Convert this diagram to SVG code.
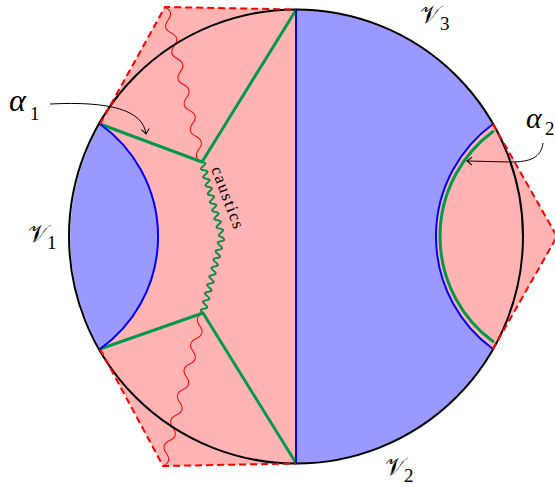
<svg xmlns="http://www.w3.org/2000/svg" width="555" height="488" viewBox="0 0 555 488">
<style>
.pink{fill:#FFB3B3;stroke:none}
.blue{fill:#9999FF;stroke:none}
.bl{fill:none;stroke:#0000FF;stroke-width:2}
.gr{fill:none;stroke:#00994D;stroke-width:3;stroke-linecap:round;stroke-linejoin:round}
.grw{fill:none;stroke:#00994D;stroke-width:2}
.rw{fill:none;stroke:#FF0000;stroke-width:1}
.dash{fill:none;stroke:#FF0000;stroke-width:2;stroke-dasharray:7,4}
.circ{fill:none;stroke:#000;stroke-width:2}
.lab{font-family:"Liberation Serif","DejaVu Serif",serif;font-style:italic;fill:#000}
.txt{font-family:"Liberation Serif","DejaVu Serif",serif;fill:#000}
.cal{font-family:"DejaVu Serif","DejaVu Sans",serif;fill:#000}
.sub{font-family:"Liberation Serif","DejaVu Serif",serif;fill:#000;font-size:19px}
.arr{fill:none;stroke:#000;stroke-width:1}
</style>
<defs>
<marker id="to" viewBox="-6 -5 8 10" markerWidth="8" markerHeight="10" refX="0" refY="0" orient="auto" markerUnits="userSpaceOnUse">
<path d="M-5,-4 Q-1.5,-1 0,0 Q-1.5,1 -5,4" fill="none" stroke="#000" stroke-width="1"/>
</marker>
</defs>
<g id="regions">
<path id="V3-region" class="blue" d="M296,9.5 A227,227 0 0 1 296,463.5 Z"/>
<path id="left-region" class="pink" d="M296,9.5 L165,7 L100,124 A138,138 0 0 1 100,349 L163,466 L296,463.5 Z"/>
<path id="right-lens" class="pink" d="M493,124 L557,236.5 L493,349 A139.5,139.5 0 0 1 493,124 Z"/>
<path id="V1-region" class="blue" d="M100,124 A227,227 0 0 0 100,349 A138,138 0 0 0 100,124 Z"/>
</g>
<g id="connectors">
<path class="rw" transform="translate(165,7) rotate(76.6)" d="M0,0 q6.645,-8 13.29,0 t13.29,0 t13.29,0 t13.29,0 t13.29,0 t13.29,0 t13.29,0 t13.29,0 t13.29,0 t13.29,0 t13.29,0 t13.29,0"/>
<path class="rw" transform="translate(203,313) rotate(104.65)" d="M0,0 q6.59,8 13.18,0 t13.18,0 t13.18,0 t13.18,0 t13.18,0 t13.18,0 t13.18,0 t13.18,0 t13.18,0 t13.18,0 t13.18,0 t13.18,0"/>
<path class="rw" transform="translate(202,162) rotate(75.07)" d="M0,0 q2.155,-6.5 4.31,0 t4.31,0 t4.31,0 t4.31,0 t4.31,0 t4.31,0 t4.31,0 t4.31,0 t4.31,0 t4.31,0 t4.31,0 t4.31,0 t4.31,0 t4.31,0 t4.31,0 t4.31,0 t4.31,0 t4.31,0"/>
<path class="rw" transform="translate(222,237) rotate(104.04)" d="M0,0 q2.175,-6.5 4.35,0 t4.35,0 t4.35,0 t4.35,0 t4.35,0 t4.35,0 t4.35,0 t4.35,0 t4.35,0 t4.35,0 t4.35,0 t4.35,0 t4.35,0 t4.35,0 t4.35,0 t4.35,0 t4.35,0 t4.35,0"/>
<path class="grw" transform="translate(202,162) rotate(75.07)" d="M0,0 q2.155,-5 4.31,0 t4.31,0 t4.31,0 t4.31,0 t4.31,0 t4.31,0 t4.31,0 t4.31,0 t4.31,0 t4.31,0 t4.31,0 t4.31,0 t4.31,0 t4.31,0 t4.31,0 t4.31,0 t4.31,0 t4.31,0"/>
<path class="grw" transform="translate(222,237) rotate(104.04)" d="M0,0 q2.175,-5 4.35,0 t4.35,0 t4.35,0 t4.35,0 t4.35,0 t4.35,0 t4.35,0 t4.35,0 t4.35,0 t4.35,0 t4.35,0 t4.35,0 t4.35,0 t4.35,0 t4.35,0 t4.35,0 t4.35,0 t4.35,0"/>
<path class="gr" d="M100,124 L202,162 L296,10"/>
<path class="gr" d="M100,349 L203,313 L296,463"/>
<path class="gr" d="M493,131.5 A130.5,130.5 0 0 0 493,341.5"/>
<path class="bl" d="M100,124 A138,138 0 0 1 100,349"/>
<path class="bl" d="M493,124 A139.5,139.5 0 0 0 493,349"/>
<path class="bl" d="M296,9.5 L296,463.5"/>
<circle class="circ" cx="296" cy="236.5" r="227"/>
<path class="dash" d="M100,124 L165,7 L296,9.5"/>
<path class="dash" d="M100,349 L163,466 L296,463.5"/>
<path class="dash" d="M493,124 L557,236.5 L493,349"/>
<path class="arr" marker-end="url(#to)" d="M50,104 C110,101 143,110 146,134"/>
<path class="arr" marker-end="url(#to)" d="M543,143 C541,158 530,162 510,162 L467,161"/>
</g>
<g id="labels">
<text class="txt" font-size="17" transform="translate(211,169) rotate(69.3)" textLength="65" lengthAdjust="spacing">caustics</text>
<g id="alpha1"><text class="lab" x="9" y="111" font-size="32">α</text><text class="sub" x="30" y="120">1</text></g>
<g id="alpha2"><text class="lab" x="526" y="128" font-size="30">α</text><text class="sub" x="545" y="135">2</text></g>
<g id="V1"><text class="cal" x="28" y="242" font-size="24">𝒱</text><text class="sub" x="47" y="249">1</text></g>
<g id="V2"><text class="cal" x="385" y="475" font-size="24">𝒱</text><text class="sub" x="404" y="482">2</text></g>
<g id="V3"><text class="cal" x="420" y="23" font-size="24">𝒱</text><text class="sub" x="440" y="30">3</text></g>
</g>
</svg>
